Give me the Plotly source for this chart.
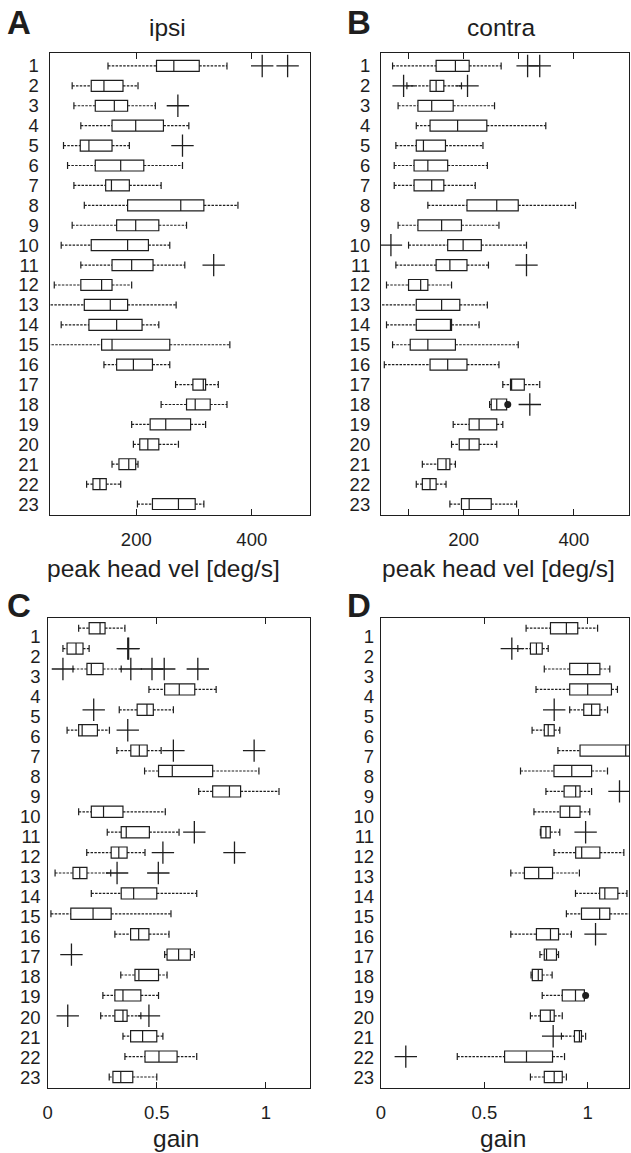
import plotly.graph_objects as go

rows = list(range(1, 24))
row_labels = [str(r) for r in rows]

# ---------------- Panel A: ipsi, peak head vel ----------------
a_wlo = [151, 89, 92, 104, 74, 81, 92, 110, 89, 70, 104, 58, 45, 70, 40, 144, 268, 243, 192, 195, 158, 114, 202]
a_q1 = [235, 122, 129, 158, 103, 129, 147, 185, 166, 122, 158, 104, 110, 118, 140, 166, 298, 287, 224, 206, 170, 125, 228]
a_med = [265, 144, 162, 199, 118, 173, 157, 277, 199, 185, 192, 140, 155, 166, 158, 195, 316, 302, 251, 220, 187, 137, 273]
a_q3 = [309, 177, 185, 247, 158, 213, 188, 317, 239, 221, 229, 158, 185, 210, 258, 228, 320, 328, 294, 239, 199, 148, 302]
a_whi = [357, 203, 233, 291, 188, 280, 243, 376, 287, 258, 284, 192, 269, 239, 362, 258, 342, 357, 320, 273, 203, 173, 317]
a_out = {1: [418, 462], 3: [272], 5: [280], 11: [334]}
a_dots = {}

# ---------------- Panel B: contra, peak head vel ----------------
b_wlo = [71, 97, 81, 114, 77, 74, 74, 135, 81, 100, 77, 60, 45, 60, 71, 56, 271, 247, 181, 178, 125, 114, 175]
b_q1 = [150, 139, 117, 139, 114, 110, 110, 206, 117, 171, 150, 100, 114, 114, 103, 139, 285, 250, 210, 192, 153, 125, 196]
b_med = [185, 150, 142, 189, 127, 135, 142, 260, 160, 199, 175, 122, 160, 176, 135, 171, 287, 260, 228, 210, 168, 139, 210]
b_q3 = [210, 164, 181, 242, 167, 171, 164, 299, 196, 232, 206, 135, 193, 178, 185, 206, 310, 278, 260, 228, 175, 150, 250]
b_whi = [268, 196, 256, 349, 235, 243, 221, 403, 264, 314, 245, 178, 243, 228, 299, 264, 338, 279, 271, 260, 185, 168, 296]
b_out = {1: [316, 338], 2: [91, 207], 10: [68], 11: [314], 18: [320]}
b_dots = {18: [280]}

# ---------------- Panel C: ipsi, gain ----------------
c_wlo = [0.142, 0.07, 0.116, 0.464, 0.328, 0.089, 0.317, 0.444, 0.692, 0.142, 0.273, 0.179, 0.034, 0.2, 0.015, 0.308, 0.536, 0.335, 0.253, 0.243, 0.345, 0.354, 0.282]
c_q1 = [0.19, 0.089, 0.18, 0.536, 0.41, 0.142, 0.381, 0.508, 0.756, 0.2, 0.337, 0.291, 0.116, 0.337, 0.106, 0.38, 0.547, 0.4, 0.308, 0.308, 0.38, 0.446, 0.299]
c_med = [0.24, 0.13, 0.2, 0.603, 0.455, 0.158, 0.42, 0.571, 0.833, 0.256, 0.36, 0.326, 0.147, 0.394, 0.208, 0.417, 0.6, 0.418, 0.345, 0.345, 0.435, 0.51, 0.335]
c_q3 = [0.263, 0.162, 0.254, 0.674, 0.484, 0.228, 0.456, 0.756, 0.884, 0.345, 0.466, 0.364, 0.18, 0.5, 0.291, 0.464, 0.654, 0.508, 0.427, 0.364, 0.5, 0.593, 0.39]
c_whi = [0.354, 0.19, 0.337, 0.772, 0.576, 0.283, 0.52, 0.968, 1.06, 0.539, 0.602, 0.446, 0.289, 0.683, 0.565, 0.556, 0.672, 0.547, 0.508, 0.427, 0.528, 0.683, 0.5]
c_out = {2: [0.367, 0.371], 3: [0.07, 0.381, 0.478, 0.534, 0.688], 5: [0.211], 6: [0.367],
         7: [0.576, 0.946], 11: [0.672], 12: [0.528, 0.856], 13: [0.318, 0.507], 17: [0.109], 20: [0.092, 0.464]}
c_dots = {}

# ---------------- Panel D: contra, gain ----------------
d_wlo = [0.702, 0.662, 0.79, 0.75, 0.913, 0.731, 0.856, 0.675, 0.798, 0.74, 0.771, 0.837, 0.628, 0.941, 0.897, 0.628, 0.769, 0.726, 0.78, 0.723, 0.873, 0.369, 0.723]
d_q1 = [0.82, 0.723, 0.913, 0.913, 0.981, 0.79, 0.963, 0.837, 0.886, 0.867, 0.774, 0.942, 0.694, 1.058, 0.97, 0.752, 0.79, 0.732, 0.877, 0.771, 0.936, 0.598, 0.79]
d_med = [0.897, 0.752, 1.0, 1.0, 1.019, 0.809, 1.184, 0.923, 0.942, 0.913, 0.798, 0.971, 0.763, 1.083, 1.058, 0.82, 0.801, 0.761, 0.941, 0.819, 0.96, 0.704, 0.838]
d_q3 = [0.952, 0.78, 1.059, 1.115, 1.059, 0.838, 1.25, 1.019, 0.963, 0.963, 0.819, 1.059, 0.83, 1.146, 1.107, 0.859, 0.849, 0.78, 0.984, 0.838, 0.97, 0.83, 0.877]
d_whi = [1.048, 0.809, 1.107, 1.144, 1.096, 0.865, 1.35, 1.096, 1.019, 1.01, 0.865, 1.175, 0.96, 1.19, 1.25, 0.921, 0.859, 0.828, 0.985, 0.877, 0.99, 0.888, 0.897]
d_out = {2: [0.633], 5: [0.838], 9: [1.154], 11: [0.99], 16: [1.038], 21: [0.833], 22: [0.12]}
d_dots = {19: [0.99]}

INK = "#1e1e1e"
FONT = "Liberation Sans, Arial, Helvetica, sans-serif"

fig = go.Figure()


def add_panel(xa, ya, wlo, q1, med, q3, whi, outliers, dots):
    wx, wy = [], []
    for r, lo, a, b, hi in zip(rows, wlo, q1, q3, whi):
        wx += [lo, a, None, b, hi, None]
        wy += [r, r, None, r, r, None]
    fig.add_trace(go.Scatter(x=wx, y=wy, mode="lines", xaxis=xa, yaxis=ya,
                             line=dict(color=INK, width=1.2, dash="2.5px,1.3px"),
                             hoverinfo="skip", showlegend=False))
    fig.add_trace(go.Box(y=rows, q1=q1, median=med, q3=q3, lowerfence=q1, upperfence=q3,
                         orientation="h", xaxis=xa, yaxis=ya, fillcolor="white",
                         line=dict(color=INK, width=1.2), whiskerwidth=0, width=0.55,
                         boxpoints=False, hoverinfo="skip", showlegend=False))
    fig.add_trace(go.Scatter(x=wlo + whi, y=rows + rows, mode="markers", xaxis=xa, yaxis=ya,
                             marker=dict(symbol="line-ns", size=5, color=INK,
                                         line=dict(width=1.2, color=INK)),
                             hoverinfo="skip", showlegend=False))
    ox, oy = [], []
    for r, vals in outliers.items():
        for v in vals:
            ox.append(v)
            oy.append(r)
    fig.add_trace(go.Scatter(x=ox, y=oy, mode="markers", xaxis=xa, yaxis=ya,
                             marker=dict(symbol="cross-thin", size=16, color=INK,
                                         line=dict(width=1.3, color=INK)),
                             hoverinfo="skip", showlegend=False))
    if dots:
        dx, dy = [], []
        for r, vals in dots.items():
            for v in vals:
                dx.append(v)
                dy.append(r)
        fig.add_trace(go.Scatter(x=dx, y=dy, mode="markers", xaxis=xa, yaxis=ya,
                                 marker=dict(symbol="circle", size=7, color=INK),
                                 hoverinfo="skip", showlegend=False))


add_panel("x", "y", a_wlo, a_q1, a_med, a_q3, a_whi, a_out, a_dots)
add_panel("x2", "y2", b_wlo, b_q1, b_med, b_q3, b_whi, b_out, b_dots)
add_panel("x3", "y3", c_wlo, c_q1, c_med, c_q3, c_whi, c_out, c_dots)
add_panel("x4", "y4", d_wlo, d_q1, d_med, d_q3, d_whi, d_out, d_dots)

# invisible carriers for the row-label axes of panels C and D
fig.add_trace(go.Scatter(x=c_med, y=rows, mode="markers", xaxis="x3", yaxis="y5",
                         marker=dict(opacity=0), hoverinfo="skip", showlegend=False))
fig.add_trace(go.Scatter(x=d_med, y=rows, mode="markers", xaxis="x4", yaxis="y6",
                         marker=dict(opacity=0), hoverinfo="skip", showlegend=False))

W, H = 631, 1153


def px_x(p):
    return p / W


def px_y(p):
    return 1 - p / H


common_x = dict(showline=True, mirror="ticks", linecolor=INK, linewidth=1.2, ticks="inside",
                ticklen=6, tickcolor=INK, tickwidth=1.2, showgrid=False, zeroline=False,
                tickfont=dict(size=18.5, color=INK, family=FONT), ticklabelstandoff=8)
common_y = dict(showline=True, mirror=True, linecolor=INK, linewidth=1.2, ticks="",
                showgrid=False, zeroline=False, tickvals=rows, ticktext=row_labels,
                tickfont=dict(size=18.5, color=INK, family=FONT), ticklabelstandoff=6)
label_y = dict(showline=False, ticks="", showgrid=False, zeroline=False, tickvals=rows,
               ticktext=row_labels, tickfont=dict(size=18.5, color=INK, family=FONT),
               ticklabelstandoff=6, range=[23.54, 0.10])

dom_left_top = [px_x(45), px_x(307)]
dom_right = [px_x(379), px_x(629)]
dom_left_bot = [px_x(43), px_x(307)]
dom_top = [px_y(515), px_y(53)]
dom_bot = [px_y(1088), px_y(618)]

fig.update_layout(
    width=W, height=H, margin=dict(l=0, r=0, t=0, b=0),
    paper_bgcolor="white", plot_bgcolor="white",
    font=dict(family=FONT, color=INK),
    showlegend=False,
    xaxis=dict(common_x, domain=dom_left_top, anchor="y", range=[50, 500],
               tickvals=[200, 400], ticktext=["200", "400"]),
    yaxis=dict(common_y, domain=dom_top, anchor="x", range=[23.55, 0.35]),
    xaxis2=dict(common_x, domain=dom_right, anchor="y2", range=[50, 500],
                tickvals=[100, 200, 300, 400], ticktext=["", "200", "", "400"]),
    yaxis2=dict(common_y, domain=dom_top, anchor="x2", range=[23.55, 0.35]),
    xaxis3=dict(common_x, domain=dom_left_bot, anchor="y3", range=[0, 1.2],
                tickvals=[0, 0.5, 1], ticktext=["0", "0.5", "1"]),
    yaxis3=dict(common_y, domain=dom_bot, anchor="x3", range=[23.54, 0.5], showticklabels=False),
    xaxis4=dict(common_x, domain=dom_right, anchor="y4", range=[0, 1.2],
                tickvals=[0, 0.5, 1], ticktext=["0", "0.5", "1"]),
    yaxis4=dict(common_y, domain=dom_bot, anchor="x4", range=[23.54, 0.5], showticklabels=False),
    yaxis5=dict(label_y, domain=dom_bot, anchor="x3", overlaying="y3", side="left"),
    yaxis6=dict(label_y, domain=dom_bot, anchor="x4", overlaying="y4", side="left"),
)

ann = []
# panel letters
for txt, x, y in [("A", 0, 22), ("B", 343, 22), ("C", 0, 605), ("D", 343, 605)]:
    ann.append(dict(text="<b>%s</b>" % txt, x=px_x(x), y=px_y(y), xref="paper", yref="paper",
                    xanchor="left", yanchor="middle", showarrow=False,
                    font=dict(size=33, color=INK, family=FONT)))
# titles
for txt, x, y in [("ipsi", 164, 27), ("contra", 500, 27),
                  ("peak head vel [deg/s]", 160, 568), ("peak head vel [deg/s]", 497, 568),
                  ("gain", 172, 1138), ("gain", 502, 1138)]:
    ann.append(dict(text=txt, x=px_x(x), y=px_y(y), xref="paper", yref="paper",
                    xanchor="center", yanchor="middle", showarrow=False,
                    font=dict(size=24.5, color=INK, family=FONT)))
fig.update_layout(annotations=ann)

fig.write_html("out.html", config={"displayModeBar": False},
               post_script="document.body.style.margin='0';document.body.style.overflow='hidden';")
